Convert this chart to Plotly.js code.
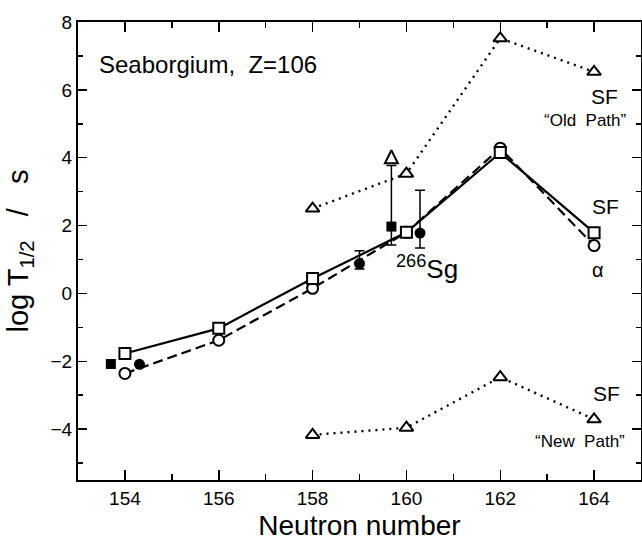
<!DOCTYPE html>
<html>
<head>
<meta charset="utf-8">
<script src="https://cdn.plot.ly/plotly-3.0.1.min.js"></script>
<style>html,body{margin:0;padding:0;background:#fff;}#chart{width:642px;height:541px;}</style>
</head>
<body>
<div id="chart"></div>
<script>
// ---- data ----
const neutronCalc = [154, 156, 158, 160, 162, 164];
const logT_total_SF = [-1.77, -1.03, 0.44, 1.80, 4.15, 1.79];   // open squares, solid line
const logT_alpha = [-2.36, -1.38, 0.15, 1.80, 4.28, 1.41];      // open circles, dashed line

const neutronPath = [158, 160, 162, 164];
const logT_oldPath = [2.50, 3.53, 7.52, 6.53];   // triangles, dotted
const logT_newPath = [-4.17, -3.96, -2.47, -3.71]; // triangles, dotted

const expSqX = [153.70, 159.68];
const expSqY = [-2.08, 1.97];
const expSqErrPlus = [null, 1.80];
const expSqErrMinus = [null, 0.54];
const arrowX = [159.68];
const arrowY = [4.22];

const expCirX = [154.31, 159.0, 160.29];
const expCirY = [-2.09, 0.88, 1.78];
const expCirErrPlus = [null, 0.38, 1.26];
const expCirErrMinus = [null, 0.16, 0.44];

const tickVals = [154, 156, 158, 160, 162, 164];
const yTickVals = [-4, -2, 0, 2, 4, 6, 8];

const FONT = 'Liberation Sans, Arial, sans-serif';

const openMarker = (sym, size) => ({symbol: sym, size: size, color: 'white', line: {color: 'black', width: 2}});

const traces = [
  {x: neutronPath, y: logT_oldPath, mode: 'lines+markers', line: {color: 'black', width: 2.4, dash: '2px,5px'},
   marker: openMarker('triangle-up', 12), hoverinfo: 'skip'},
  {x: neutronPath, y: logT_newPath, mode: 'lines+markers', line: {color: 'black', width: 2.4, dash: '2px,5px'},
   marker: openMarker('triangle-up', 12), hoverinfo: 'skip'},
  {x: neutronCalc, y: logT_alpha, mode: 'lines+markers', line: {color: 'black', width: 2.2, dash: '10px,5px'},
   marker: openMarker('circle', 11), hoverinfo: 'skip'},
  {x: neutronCalc, y: logT_total_SF, mode: 'lines+markers', line: {color: 'black', width: 2.2},
   marker: openMarker('square', 11), hoverinfo: 'skip'},
  {x: expSqX, y: expSqY, mode: 'markers', marker: {symbol: 'square', size: 10, color: 'black'},
   error_y: {type: 'data', symmetric: false, array: expSqErrPlus, arrayminus: expSqErrMinus, color: 'black', thickness: 1.5, width: 5},
   hoverinfo: 'skip'},
  {x: arrowX, y: arrowY, mode: 'markers', marker: {symbol: 'arrow-up', size: 13, color: 'white', line: {color: 'black', width: 2}},
   hoverinfo: 'skip'},
  {x: expCirX, y: expCirY, mode: 'markers', marker: {symbol: 'circle', size: 11, color: 'black'},
   error_y: {type: 'data', symmetric: false, array: expCirErrPlus, arrayminus: expCirErrMinus, color: 'black', thickness: 1.5, width: 5},
   hoverinfo: 'skip'}
];

const ann = (x, y, text, size, extra) => Object.assign({x: x, y: y, xref: 'x', yref: 'y', text: text, showarrow: false,
  font: {family: FONT, size: size, color: 'black'}}, extra || {});

const layout = {
  width: 642, height: 541,
  margin: {l: 78, r: 1, t: 22, b: 61, pad: 0},
  paper_bgcolor: 'white', plot_bgcolor: 'white',
  showlegend: false,
  xaxis: {
    range: [153, 165], tickvals: tickVals, ticks: 'inside', ticklen: 10, tickwidth: 1.5, tickcolor: 'black',
    showline: true, linewidth: 2, linecolor: 'black', mirror: 'allticks', showgrid: false, zeroline: false,
    tickfont: {family: FONT, size: 19, color: 'black'},
    minor: {dtick: 1, tick0: 153, ticks: 'inside', ticklen: 6, tickwidth: 1.5, tickcolor: 'black', showgrid: false},
    title: {text: 'Neutron number', font: {family: FONT, size: 28, color: 'black'}, standoff: 9}
  },
  yaxis: {
    range: [-5.5, 8], tickvals: yTickVals, ticks: 'inside', ticklen: 9, tickwidth: 1.5, tickcolor: 'black',
    showline: true, linewidth: 2, linecolor: 'black', mirror: 'allticks', showgrid: false, zeroline: false,
    tickfont: {family: FONT, size: 19, color: 'black'},
    minor: {dtick: 1, tick0: -5, ticks: 'inside', ticklen: 5, tickwidth: 1.5, tickcolor: 'black', showgrid: false},
    title: {text: 'log T<sub>1/2</sub> &nbsp; / &nbsp; s', font: {family: FONT, size: 29, color: 'black'}, standoff: 13}
  },
  annotations: [
    ann(153.4, 6.76, 'Seaborgium,&nbsp; Z=106', 24, {xanchor: 'left'}),
    ann(164.22, 5.80, 'SF', 21),
    ann(163.81, 5.09, '\u201COld&nbsp; Path\u201D', 17),
    ann(164.24, 2.56, 'SF', 21),
    ann(164.09, 0.69, '\u03B1', 20),
    ann(164.26, -2.94, 'SF', 21),
    ann(163.70, -4.37, '\u201CNew&nbsp; Path\u201D', 17),
    ann(160.43, 0.75, '<sup>266</sup>Sg', 26)
  ]
};

Plotly.newPlot('chart', traces, layout, {staticPlot: true, displayModeBar: false});
</script>
</body>
</html>
